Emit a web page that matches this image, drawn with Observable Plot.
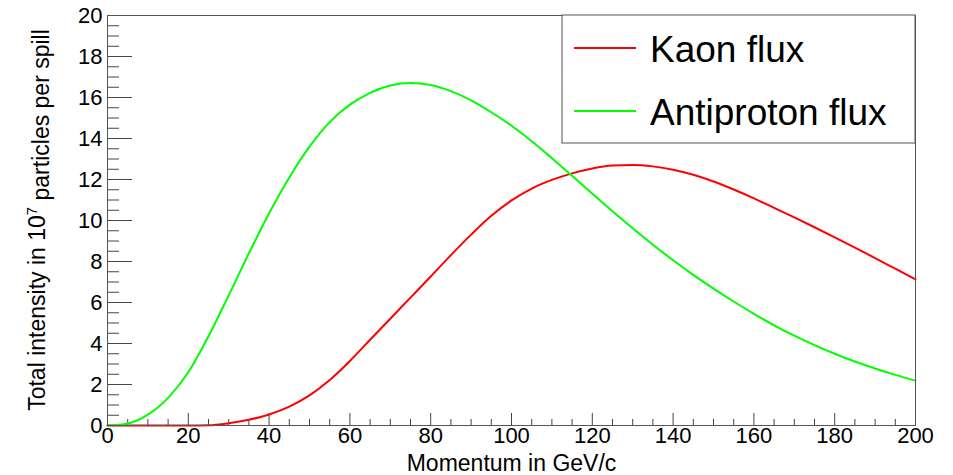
<!DOCTYPE html>
<html><head><meta charset="utf-8">
<script src="https://cdn.jsdelivr.net/npm/d3@7"></script>
<script src="https://cdn.jsdelivr.net/npm/@observablehq/plot@0.6"></script>
<style>body{margin:0;background:#fff;}</style>
</head><body><div id="chart"></div>
<script>
// Momentum in GeV/c
const momentum = [0,5,10,15,20,25,30,35,40,45,50,55,60,65,70,75,80,85,90,95,100,105,110,115,120,125,130,135,140,145,150,155,160,165,170,175,180,185,190,195,200];
// Total intensity in 10^7 particles per spill
const kaonFlux = [0,0,0,0,0,0.01,0.11,0.28,0.54,0.92,1.47,2.22,3.15,4.18,5.21,6.24,7.27,8.31,9.31,10.23,10.98,11.56,11.98,12.30,12.54,12.68,12.71,12.64,12.48,12.23,11.90,11.51,11.08,10.62,10.15,9.67,9.18,8.68,8.17,7.65,7.13];
const antiprotonFlux = [0,0.1,0.53,1.35,2.6,4.35,6.35,8.4,10.35,12.1,13.6,14.8,15.65,16.23,16.59,16.71,16.61,16.31,15.86,15.28,14.62,13.87,13.04,12.18,11.31,10.45,9.62,8.82,8.06,7.35,6.68,6.05,5.45,4.89,4.38,3.92,3.5,3.12,2.78,2.47,2.19];
const seriesNames = ["Kaon flux", "Antiproton flux"];
const seriesColors = ["#ff0000", "#00ff00"];
const xTicks = [0,20,40,60,80,100,120,140,160,180,200];
const xMinorTicks = d3.range(0, 201, 5).filter(d => d % 20 !== 0);
const yTicks = [0,2,4,6,8,10,12,14,16,18,20];
const yMinorTicks = d3.range(0, 20.01, 0.5).filter(d => d % 2 !== 0);
const xTitle = "Momentum in GeV/c";

const kaon = momentum.map((p, i) => ({p, v: kaonFlux[i]}));
const pbar = momentum.map((p, i) => ({p, v: antiprotonFlux[i]}));

const W = 953, H = 475, ML = 107, MR = 38, MT = 15, MB = 50;
const innerW = W - ML - MR, innerH = H - MT - MB;
const tickColor = "#444";

const chart = Plot.plot({
  width: W, height: H,
  marginLeft: ML, marginRight: MR, marginTop: MT, marginBottom: MB,
  style: {fontFamily: "'Liberation Sans', Arial, Helvetica, sans-serif", color: "#000", background: "#fff"},
  x: {domain: [0, 200], label: null},
  y: {domain: [0, 20], label: null},
  marks: [
    Plot.tickX(xMinorTicks, {x: d => d, stroke: tickColor, insetTop: innerH - 6}),
    Plot.tickX(xTicks, {x: d => d, stroke: tickColor, insetTop: innerH - 12}),
    Plot.tickY(yMinorTicks, {y: d => d, stroke: tickColor, insetRight: innerW - 12}),
    Plot.tickY(yTicks, {y: d => d, stroke: tickColor, insetRight: innerW - 25}),
    Plot.axisX(xTicks, {tickSize: 0, tickPadding: 2, fontSize: 22, label: null}),
    Plot.axisY(yTicks, {tickSize: 0, tickPadding: 5, fontSize: 22, label: null}),
    Plot.line(kaon, {x: "p", y: "v", stroke: seriesColors[0], strokeWidth: 2, curve: "monotone-x"}),
    Plot.line(pbar, {x: "p", y: "v", stroke: seriesColors[1], strokeWidth: 2, curve: "monotone-x"}),
    Plot.frame({stroke: "#555"}),
    Plot.text([xTitle], {frameAnchor: "bottom", dy: 45, lineAnchor: "bottom", fontSize: 23})
  ]
});
document.getElementById("chart").append(chart);

const svg = d3.select(chart);
// y-axis title with superscript
const yt = svg.append("text")
  .attr("transform", `translate(45,${MT + innerH / 2}) rotate(-90)`)
  .attr("text-anchor", "middle")
  .attr("font-size", 23)
  .attr("fill", "#000");
yt.append("tspan").text("Total intensity in 10");
yt.append("tspan").attr("dy", "-0.55em").attr("font-size", 15).text("7");
yt.append("tspan").attr("dy", "0.55em").text(" particles per spill");

// legend
const lg = svg.append("g");
lg.append("rect").attr("x", 562).attr("y", MT).attr("width", W - MR - 562).attr("height", 128)
  .attr("fill", "#fff").attr("stroke", "#555");
seriesNames.forEach((name, i) => {
  const cy = 48 + i * 63;
  lg.append("line").attr("x1", 574).attr("x2", 636).attr("y1", cy).attr("y2", cy)
    .attr("stroke", seriesColors[i]).attr("stroke-width", 2);
  lg.append("text").attr("x", 650).attr("y", cy + 14).attr("text-anchor", "start")
    .attr("font-size", 37).attr("fill", "#000").text(name);
});
</script>
</body></html>
